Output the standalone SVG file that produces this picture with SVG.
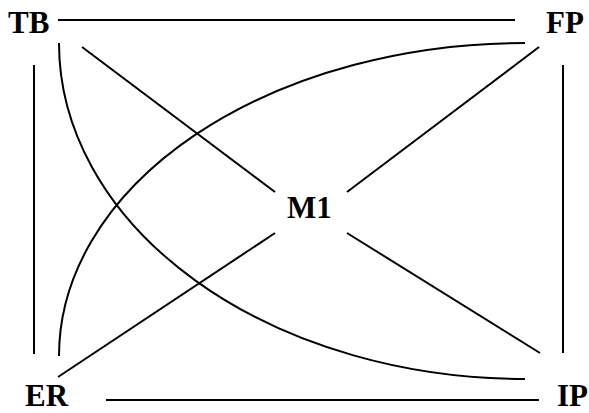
<svg xmlns="http://www.w3.org/2000/svg" width="589" height="413" viewBox="0 0 589 413">
<style>
.l{stroke:#000;stroke-width:2;fill:none}
.t{font-family:"Liberation Serif","Times New Roman",serif;font-weight:bold;font-size:31px;fill:#000}
</style>
<rect width="589" height="413" fill="#fff"/>
<g id="connectors">
<line class="l" x1="58" y1="20" x2="515" y2="20"/>
<line class="l" x1="106" y1="400" x2="539" y2="400"/>
<line class="l" x1="34" y1="65" x2="34" y2="354"/>
<line class="l" x1="563" y1="65" x2="563" y2="353"/>
<line class="l" x1="82" y1="47" x2="275" y2="192"/>
<line class="l" x1="539" y1="47" x2="347" y2="192"/>
<line class="l" x1="275" y1="233" x2="58" y2="377"/>
<line class="l" x1="347" y1="233" x2="540" y2="353"/>
<path class="l" d="M59,43 A466,336 0 0,0 525,379"/>
<path class="l" d="M59,356 A466,313 0 0,1 525,43"/>
</g>
<g id="TB"><text class="t" x="8" y="33">TB</text></g>
<g id="FP"><text class="t" x="546" y="33">FP</text></g>
<g id="M1"><text class="t" x="287" y="218">M1</text></g>
<g id="ER"><text class="t" x="25" y="406">ER</text></g>
<g id="IP"><text class="t" x="557" y="406">IP</text></g>
</svg>
